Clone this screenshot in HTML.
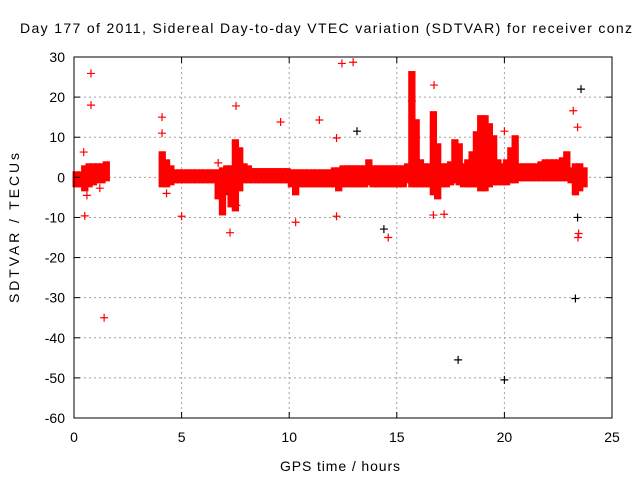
<!DOCTYPE html>
<html><head><meta charset="utf-8"><style>
html,body{margin:0;padding:0;background:#fff;}
svg text{font-family:"Liberation Sans",sans-serif;fill:#000;}
</style></head><body>
<svg id="chart" width="640" height="480" xmlns="http://www.w3.org/2000/svg">
<rect width="640" height="480" fill="#fff"/>
<text x="20" y="33" font-size="14" textLength="612" lengthAdjust="spacing">Day 177 of 2011, Sidereal Day-to-day VTEC variation (SDTVAR) for receiver conz</text>
<text x="280" y="471" font-size="14" textLength="120" lengthAdjust="spacing">GPS time / hours</text>
<text x="0" y="0" font-size="14" textLength="150" lengthAdjust="spacing" transform="translate(19,303) rotate(-90)">SDTVAR / TECUs</text>
<g id="grid"></g>
<g id="marks"></g>
<rect x="74" y="57" width="538" height="361" fill="none" stroke="#000" stroke-width="1"/>
<g id="ticks"></g>
</svg>
<script>
const xTicks=[0,5,10,15,20,25];
const yTicks=[-60,-50,-40,-30,-20,-10,0,10,20,30];
const bandT=[0,0.2,0.4,0.6,0.8,1.0,1.2,1.4,
4.0,4.2,4.4,4.6,4.8,5.0,5.2,5.4,5.6,5.8,6.0,6.2,6.4,6.6,6.8,7.0,7.2,7.4,7.6,7.8,8.0,8.2,8.4,8.6,8.8,9.0,9.2,9.4,9.6,9.8,
10.0,10.2,10.4,10.6,10.8,11.0,11.2,11.4,11.6,11.8,12.0,12.2,12.4,12.6,12.8,13.0,13.2,13.4,13.6,13.8,14.0,14.2,14.4,14.6,14.8,
15.0,15.2,15.4,15.6,15.8,16.0,16.2,16.4,16.6,16.8,17.0,17.2,17.4,17.6,17.8,18.0,18.2,18.4,18.6,18.8,19.0,19.2,19.4,19.6,19.8,
20.0,20.2,20.4,20.6,20.8,21.0,21.2,21.4,21.6,21.8,22.0,22.2,22.4,22.6,22.8,23.0,23.2,23.4,23.6];
const bandLo=[-2,-2,-3,-2,-1.5,-1,-1,-0.5,
-2,-2,-1.5,-1,-1,-1,-1,-1,-1,-1,-1,-1,-1,-5,-9,-4,-7,-8,-3,-1,-1,-1,-1,-1,-1,-1,-1,-1,-1,-1,
-2,-4,-2,-2,-2,-2,-2,-2,-2,-2,-2,-3,-2,-2,-2,-2,-2,-2,-1.5,-2,-2,-2,-2,-2,-2,
-2,-2,-1,-2,-2,-2,-2,-2,-4,-5,-2,-2,-1.5,-1,-1.5,-2,-2,-2,-2,-3,-3,-2,-1.5,-1.5,-1.5,
-1.5,-1,-1,-0.5,-0.5,-0.5,-0.5,-0.5,-0.5,-0.5,-0.5,-0.5,-0.5,-0.5,-0.5,-1,-4,-3,-2];
const bandHi=[1,1,2.5,3,3,3,3,3.5,
6,4,2.5,1.5,1.5,1.5,1.5,1.5,1.5,1.5,1.5,1.5,1.5,1.5,2,2.5,2.5,9,7,3,2.5,1.8,1.8,1.8,1.8,1.8,1.8,1.8,1.8,1.8,
1.5,1.5,1.5,1.5,1.5,1.5,1.5,1.5,1.5,1.5,2,2,2.5,2.5,2.5,2.5,2.5,2.5,4,2.5,2.5,2.5,2.5,2.5,2.5,
2.5,2.5,3,26,14,4,3,3,16,8,3,3,3.5,9,8,3,4,6,11,15,15,13,10,4,3,
4,7,10,3,3,3,3,3,3.5,4,4,4,4,4.5,6,2,3,3,2];
const ptX=[0.79,0.79,0.45,0.6,1.2,0.5,4.09,4.09,4.3,5.0,7.25,7.53,9.6,10.3,11.4,12.2,12.45,12.97,16.73,14.6,23.2,23.4,23.45,23.42,16.7,17.2,20.0,12.2,1.4,6.7,7.55,15.7,13.15,14.4,17.85,20.0,23.3,23.4,23.56];
const ptY=[25.9,18,6.3,-4.5,-2.7,-9.6,15,11,-4,-9.7,-13.8,17.8,13.8,-11.2,14.3,9.8,28.4,28.7,23,-15,16.6,12.5,-14,-15,-9.4,-9.2,11.5,-9.7,-35,3.6,-7,19,11.5,-12.9,-45.5,-50.5,-30.2,-10,22];
const ptBlack=[0,0,0,0,0,0,0,0,0,0,0,0,0,0,0,0,0,0,0,0,0,0,0,0,0,0,0,0,0,0,0,0,1,1,1,1,1,1,1];
const L=74,R=612,T=57,B=418;
function xs(v){return L+(v-0)/(25-0)*(R-L);}
function ys(v){return T+(30-v)/(30+60)*(B-T);}
const NS='http://www.w3.org/2000/svg';
function mk(tag,attrs,parent){const e=document.createElementNS(NS,tag);for(const k in attrs)e.setAttribute(k,attrs[k]);parent.appendChild(e);return e;}
const grid=document.getElementById('grid'),ticks=document.getElementById('ticks'),marks=document.getElementById('marks');
xTicks.forEach(v=>{
 const x=xs(v);
 if(v>0&&v<25){const g=mk('line',{x1:x,x2:x,y1:T,y2:B,stroke:'#a0a0a0','stroke-dasharray':'2,3'},grid);
 
 }
 mk('line',{x1:x,x2:x,y1:B,y2:B-6,stroke:'#000'},ticks);
 mk('line',{x1:x,x2:x,y1:T,y2:T+6,stroke:'#000'},ticks);
 const t=mk('text',{x:x,y:B+24,'font-size':14,'text-anchor':'middle'},ticks);t.textContent=v;
 
 
});
yTicks.forEach(v=>{
 const y=ys(v);
 if(v>-60&&v<30){const g=mk('line',{x1:L,x2:R,y1:y,y2:y,stroke:'#a0a0a0','stroke-dasharray':'2,3'},grid);
 
 }
 mk('line',{x1:L,x2:L+6,y1:y,y2:y,stroke:'#000'},ticks);
 mk('line',{x1:R,x2:R-6,y1:y,y2:y,stroke:'#000'},ticks);
 const t=mk('text',{x:L-9,y:y+5,'font-size':14,'text-anchor':'end'},ticks);t.textContent=v;
 
 
});
for(let i=0;i<bandT.length;i++){
 const x0=xs(bandT[i]),x1=xs(bandT[i]+0.2);
 const r=mk('rect',{x:x0-1.5,y:ys(bandHi[i])-2,width:(x1-x0)+3,height:ys(bandLo[i])-ys(bandHi[i])+4,fill:'#ff0000'},marks);
 
 
}
for(let i=0;i<ptX.length;i++){
 const x=xs(ptX[i]),y=ys(ptY[i]),c=ptBlack[i]?'#000':'#ff0000';
 const p=mk('path',{d:`M${x-4},${y}H${x+4}M${x},${y-4}V${y+4}`,stroke:c,'stroke-width':1.2,fill:'none'},marks);
 
 
}
</script>
</body></html>
